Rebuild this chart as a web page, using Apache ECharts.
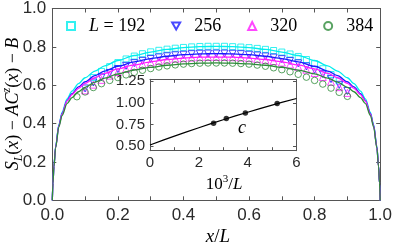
<!DOCTYPE html>
<html><head><meta charset="utf-8">
<script src="https://cdn.jsdelivr.net/npm/echarts@6/dist/echarts.min.js"></script>
<style>html,body{margin:0;padding:0;background:#fff}#c{width:395px;height:248px}</style>
</head><body><div id="c"></div>
<script>
// ---- main panel: fitted curves ----
const lineX = [0,0.002,0.005,0.01,0.02,0.03,0.045,0.06,0.08,0.1,0.13,0.16,0.2,0.25,0.3,0.35,0.4,0.45,0.5,0.55,0.6,0.65,0.7,0.75,0.8,0.84,0.87,0.9,0.92,0.94,0.955,0.97,0.98,0.99,0.995,0.998,1];
const lineL192 = [0,0.09,0.18,0.28,0.395,0.46,0.529,0.569,0.608,0.639,0.674,0.701,0.729,0.755,0.773,0.787,0.796,0.801,0.803,0.801,0.796,0.787,0.773,0.755,0.729,0.701,0.674,0.639,0.608,0.569,0.529,0.46,0.395,0.28,0.18,0.09,0];
const lineL256 = [0,0.09,0.178,0.277,0.39,0.453,0.52,0.556,0.591,0.618,0.65,0.674,0.699,0.722,0.739,0.751,0.759,0.763,0.765,0.763,0.759,0.751,0.739,0.722,0.699,0.674,0.65,0.618,0.591,0.556,0.52,0.453,0.39,0.277,0.178,0.09,0];
const lineL320 = [0,0.09,0.177,0.275,0.388,0.45,0.518,0.551,0.584,0.61,0.639,0.662,0.685,0.706,0.722,0.734,0.741,0.746,0.747,0.746,0.741,0.734,0.722,0.706,0.685,0.662,0.639,0.61,0.584,0.551,0.518,0.45,0.388,0.275,0.177,0.09,0];
const lineL384 = [0,0.09,0.175,0.272,0.383,0.443,0.504,0.535,0.566,0.589,0.616,0.637,0.659,0.679,0.693,0.704,0.711,0.715,0.716,0.715,0.711,0.704,0.693,0.679,0.659,0.637,0.616,0.589,0.566,0.535,0.504,0.443,0.383,0.272,0.175,0.09,0];

// ---- main panel: data markers ----
const markX = [0.075,0.1,0.125,0.15,0.175,0.2,0.225,0.25,0.275,0.3,0.325,0.35,0.375,0.4,0.425,0.45,0.475,0.5,0.525,0.55,0.575,0.6,0.625,0.65,0.675,0.7,0.725,0.75,0.775,0.8,0.825,0.85,0.875,0.9];
const markL192 = [null,null,0.640,0.672,0.697,0.718,0.737,0.752,0.764,0.774,0.782,0.788,0.793,0.797,0.800,0.802,0.803,0.803,0.803,0.801,0.799,0.796,0.792,0.787,0.781,0.773,0.763,0.750,0.734,0.712,0.686,0.656,0.622,null];
const markL256 = [null,0.583,0.614,0.641,0.664,0.684,0.701,0.715,0.727,0.737,0.745,0.751,0.756,0.759,0.762,0.764,0.765,0.765,0.765,0.764,0.762,0.759,0.755,0.750,0.744,0.736,0.726,0.714,0.698,0.680,0.658,0.632,0.602,0.570];
const markL320 = [null,0.573,0.603,0.628,0.650,0.669,0.685,0.699,0.710,0.719,0.727,0.733,0.738,0.741,0.744,0.746,0.747,0.747,0.747,0.746,0.744,0.741,0.737,0.732,0.726,0.718,0.708,0.696,0.681,0.664,0.643,0.618,0.590,0.560];
const markL384 = [0.540,0.565,0.588,0.608,0.625,0.640,0.654,0.667,0.678,0.687,0.695,0.701,0.706,0.710,0.713,0.715,0.716,0.716,0.716,0.715,0.713,0.710,0.705,0.699,0.691,0.681,0.670,0.657,0.642,0.625,0.606,0.585,0.563,0.542];

const seriesNames = ['192','256','320','384'];
const mainXTickLabels = [0,0.2,0.4,0.6,0.8,1.0];

// ---- inset: c versus 10^3/L ----
const invL = [2.604,3.125,3.906,5.208];
const cVals = [0.766,0.821,0.882,0.991];
const fitInvL = [0,1,2,3,4,5,6];
const fitC = [0.516,0.618,0.714,0.806,0.892,0.974,1.05];
const insetYTicks = [0.5,0.75,1.0,1.25];

const colors = ['#00eded','#1a1aff','#ff1aff','#2e8b3a'];
const symbols = ['rect','path://M0,0L10,0L5,8.66Z','triangle','circle'];
const symSizes = [6,7,7,6.5];
const markSets = [markL192,markL256,markL320,markL384];
const lineSets = [lineL192,lineL256,lineL320,lineL384];

const sans = 'Liberation Sans';
const serif = 'Liberation Serif';
const axisCol = '#555';
const txtCol = '#2a2a2a';

const series = [];
markSets.forEach((arr,k)=>{
  series.push({
    type:'scatter', name: seriesNames[k], xAxisIndex:0, yAxisIndex:0,
    symbol: symbols[k], symbolSize: symSizes[k],
    itemStyle:{color:'rgba(0,0,0,0)', borderColor: colors[k], borderWidth:1},
    data: markX.map((x,i)=>[x,arr[i]]).filter(p=>p[1]!==null),
    z: 2, silent:true
  });
});
lineSets.forEach((arr,k)=>{
  series.push({
    type:'line', xAxisIndex:0, yAxisIndex:0, showSymbol:false, symbol:'none',
    smooth:0.3, smoothMonotone:'x',
    lineStyle:{color: colors[k], width:1.3},
    data: lineX.map((x,i)=>[x,arr[i]]), z: 3, silent:true
  });
});
series.push({
  type:'line', xAxisIndex:2, yAxisIndex:2, showSymbol:false, symbol:'none', smooth:0.3,
  lineStyle:{color:'#000', width:1.2},
  data: fitInvL.map((x,i)=>[x,fitC[i]]), z: 8, silent:true
});
series.push({
  type:'scatter', xAxisIndex:2, yAxisIndex:2, symbol:'circle', symbolSize:5.5,
  itemStyle:{color:'#000'},
  data: invL.map((x,i)=>[x,cVals[i]]), z: 9, silent:true
});

function axisBase(extra){
  return Object.assign({
    type:'value', splitLine:{show:false},
    axisLine:{show:true, onZero:false, lineStyle:{color:axisCol, width:1}},
    axisTick:{show:true, inside:true, length:4, lineStyle:{color:axisCol}},
  }, extra);
}
const mainXTicks = [0,0.1,0.2,0.3,0.4,0.5,0.6,0.7,0.8,0.9,1];
const insetXTicks = [0,1,2,3,4,5,6];

const option = {
  animation:false,
  backgroundColor:'#fff',
  grid:[
    {left:52.3, top:5.3, width:331, height:195, containLabel:false},
    {left:150, top:79.3, width:146.5, height:71.4, show:true, backgroundColor:'#fff', borderWidth:0, z:5}
  ],
  legend:{
    data: seriesNames, left:66, top:17, padding:0, itemWidth:8, itemHeight:8, itemGap:26,
    selectedMode:false,
    textStyle:{fontFamily:serif, fontSize:18, color:'#000',
      rich:{s:{width:9}, n:{fontFamily:serif, fontSize:18, color:'#000'}, i:{fontFamily:serif, fontSize:18, fontStyle:'italic', color:'#000'}}},
    formatter: n => n==='192' ? '{s|}{i|L}{n| = 192}' : '{s|}{n|'+n+'}'
  },
  xAxis:[
    axisBase({gridIndex:0, min:0, max:1, interval:0.2, position:'bottom',
      axisTick:{show:true, inside:true, length:4, lineStyle:{color:axisCol}, customValues: mainXTicks},
      axisLabel:{fontFamily:sans, fontSize:17, color:txtCol, margin:7, formatter:v=>v.toFixed(1), customValues: mainXTickLabels}}),
    axisBase({gridIndex:0, min:0, max:1, interval:0.2, position:'top',
      axisTick:{show:true, inside:true, length:4, lineStyle:{color:axisCol}, customValues: mainXTicks},
      axisLabel:{show:false}}),
    axisBase({gridIndex:1, min:0, max:6, interval:2, position:'bottom', z:6,
      axisTick:{show:true, inside:true, length:3.5, lineStyle:{color:axisCol}, customValues: insetXTicks},
      axisLabel:{fontFamily:sans, fontSize:15, color:txtCol, margin:5}}),
    axisBase({gridIndex:1, min:0, max:6, interval:2, position:'top', z:6,
      axisTick:{show:true, inside:true, length:3.5, lineStyle:{color:axisCol}, customValues: insetXTicks},
      axisLabel:{show:false}})
  ],
  yAxis:[
    axisBase({gridIndex:0, min:0, max:1, interval:0.2, position:'left',
      axisLabel:{fontFamily:sans, fontSize:17, color:txtCol, margin:6, formatter:v=>v.toFixed(1)}}),
    axisBase({gridIndex:0, min:0, max:1, interval:0.2, position:'right', axisLabel:{show:false}}),
    axisBase({gridIndex:1, min:0.45, max:1.27, position:'left', z:6,
      axisTick:{show:true, inside:true, length:3.5, lineStyle:{color:axisCol}, customValues: insetYTicks},
      axisLabel:{fontFamily:sans, fontSize:15, color:txtCol, margin:5, formatter:v=>v.toFixed(2), customValues: insetYTicks}}),
    axisBase({gridIndex:1, min:0.45, max:1.27, position:'right', z:6,
      axisTick:{show:true, inside:true, length:3.5, lineStyle:{color:axisCol}, customValues: insetYTicks},
      axisLabel:{show:false}})
  ],
  graphic:[
    {type:'text', x:218, y:237, z:20, style:{text:'{i|x}/{i|L}', align:'center', verticalAlign:'middle',
      font:'19px "Liberation Serif"', fill:'#000', rich:{i:{fontStyle:'italic', fontFamily:serif, fontSize:19}}}},
    {type:'text', x:13, y:104, rotation:Math.PI/2, z:20, style:{
      text:'{i|S}{sub|L}({i|x}) − {i|AC}{sup|z}({i|x}) − {i|B}', align:'center', verticalAlign:'middle',
      font:'18px "Liberation Serif"', fill:'#000',
      rich:{
        i:{fontStyle:'italic', fontFamily:serif, fontSize:18, lineHeight:24},
        sub:{fontStyle:'italic', fontFamily:serif, fontSize:12, verticalAlign:'bottom', lineHeight:12},
        sup:{fontStyle:'italic', fontFamily:serif, fontSize:12, verticalAlign:'top', lineHeight:12}
      }}},
    {type:'text', x:224, y:185, z:20, style:{text:'10{sup|3}/{i|L}', align:'center', verticalAlign:'middle',
      font:'17px "Liberation Serif"', fill:'#000',
      rich:{i:{fontStyle:'italic', fontFamily:serif, fontSize:17, lineHeight:22}, sup:{fontFamily:serif, fontSize:11, verticalAlign:'top', lineHeight:11}}}},
    {type:'text', x:242, y:128, z:20, style:{text:'c', align:'center', verticalAlign:'middle',
      font:'italic 18px "Liberation Serif"', fill:'#000'}}
  ],
  series: series
};
const chart = echarts.init(document.getElementById('c'), null, {renderer:'canvas'});
chart.setOption(option);
</script>
</body></html>
